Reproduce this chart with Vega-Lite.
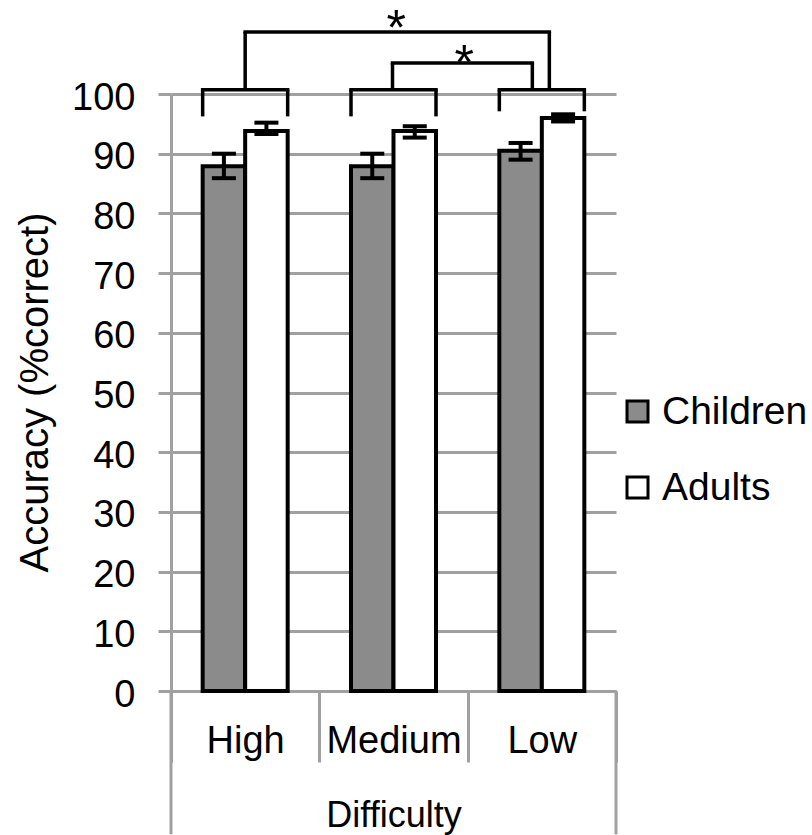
{
  "$schema": "https://vega.github.io/schema/vega-lite/v6.json",
  "width": 445,
  "height": 597,
  "autosize": {"type": "none"},
  "padding": {"left": 171, "top": 94, "right": 196, "bottom": 144},
  "background": "white",
  "config": {"font": "Liberation Sans", "view": {"stroke": null}},
  "datasets": {
    "bars": [
      {"Difficulty": "High", "Group": "Children", "Accuracy": 87.9, "Lower": 85.9, "Upper": 90.0},
      {"Difficulty": "High", "Group": "Adults", "Accuracy": 93.8, "Lower": 93.3, "Upper": 95.2},
      {"Difficulty": "Medium", "Group": "Children", "Accuracy": 87.9, "Lower": 85.9, "Upper": 90.0},
      {"Difficulty": "Medium", "Group": "Adults", "Accuracy": 93.8, "Lower": 92.7, "Upper": 94.6},
      {"Difficulty": "Low", "Group": "Children", "Accuracy": 90.5, "Lower": 89.0, "Upper": 91.8},
      {"Difficulty": "Low", "Group": "Adults", "Accuracy": 96.0, "Lower": 95.4, "Upper": 96.6}
    ],
    "groups": [
      {"Difficulty": "High", "Top": 100.7, "Bottom": 96.25},
      {"Difficulty": "Medium", "Top": 100.7, "Bottom": 96.25},
      {"Difficulty": "Low", "Top": 100.7, "Bottom": 97.1}
    ],
    "comparisons": [
      {"Difficulty": "High", "To": "Low", "Base": 100.7, "Level": 110.4, "Label": "*"},
      {"Difficulty": "Medium", "To": "Low", "Base": 100.7, "Level": 105.2, "Label": "*"}
    ]
  },
  "layer": [
    {
      "data": {"name": "bars"},
      "mark": {"type": "bar", "stroke": "black", "strokeWidth": 4, "strokeJoin": "miter"},
      "encoding": {
        "x": {
          "field": "Difficulty", "type": "nominal", "title": "Difficulty",
          "scale": {"domain": ["High", "Medium", "Low"], "paddingInner": 0, "paddingOuter": 0},
          "axis": {
            "tickBand": "extent", "tickSize": 71, "tickColor": "#a0a0a0", "tickWidth": 3,
            "domainColor": "#a0a0a0", "domainWidth": 3, "grid": false,
            "labelFontSize": 38, "labelColor": "black", "labelBaseline": "alphabetic",
            "labelPadding": -10, "labelAngle": 0,
            "titleFontSize": 36, "titleFontWeight": "normal", "titleColor": "black",
            "titleY": 135, "titleBaseline": "alphabetic"
          }
        },
        "xOffset": {
          "field": "Group", "type": "nominal",
          "scale": {"domain": ["Children", "Adults"], "paddingInner": 0, "paddingOuter": 0.745}
        },
        "y": {
          "field": "Accuracy", "type": "quantitative", "title": "Accuracy (%correct)",
          "scale": {"domain": [0, 100], "nice": false},
          "axis": {
            "values": [0, 10, 20, 30, 40, 50, 60, 70, 80, 90, 100],
            "grid": true, "gridColor": "#a0a0a0", "gridWidth": 3,
            "tickSize": 13, "tickColor": "#a0a0a0", "tickWidth": 3,
            "domainColor": "#a0a0a0", "domainWidth": 3,
            "labelFontSize": 38, "labelColor": "black", "labelPadding": 23, "labelOffset": 4,
            "titleFontSize": 40, "titleFontWeight": "normal", "titleColor": "black",
            "titleX": -124, "titleY": 298, "titleBaseline": "alphabetic"
          }
        },
        "fill": {
          "field": "Group", "type": "nominal",
          "scale": {"domain": ["Children", "Adults"], "range": ["#8b8b8b", "#ffffff"]},
          "legend": {
            "orient": "none", "legendX": 447, "legendY": 298, "title": null,
            "symbolType": "square", "symbolSize": 441, "symbolStrokeColor": "black",
            "symbolStrokeWidth": 3, "symbolOpacity": 1, "labelFontSize": 39, "labelColor": "black",
            "labelOffset": 5, "rowPadding": 36, "padding": 0, "labelLimit": 300
          }
        }
      }
    },
    {
      "data": {"name": "bars"},
      "mark": {"type": "rule", "strokeWidth": 4, "color": "black"},
      "encoding": {
        "x": {"field": "Difficulty", "type": "nominal"},
        "xOffset": {"field": "Group", "type": "nominal"},
        "y": {"field": "Lower", "type": "quantitative"},
        "y2": {"field": "Upper"}
      }
    },
    {
      "data": {"name": "bars"},
      "mark": {"type": "tick", "size": 24, "thickness": 4, "color": "black", "opacity": 1},
      "encoding": {
        "x": {"field": "Difficulty", "type": "nominal"},
        "xOffset": {"field": "Group", "type": "nominal"},
        "y": {"field": "Lower", "type": "quantitative"}
      }
    },
    {
      "data": {"name": "bars"},
      "mark": {"type": "tick", "size": 24, "thickness": 4, "color": "black", "opacity": 1},
      "encoding": {
        "x": {"field": "Difficulty", "type": "nominal"},
        "xOffset": {"field": "Group", "type": "nominal"},
        "y": {"field": "Upper", "type": "quantitative"}
      }
    },
    {
      "data": {"name": "groups"},
      "mark": {"type": "rule", "strokeWidth": 3.5, "color": "black", "strokeCap": "square", "xOffset": -42.5, "x2Offset": 42.5},
      "encoding": {
        "x": {"field": "Difficulty", "type": "nominal"},
        "x2": {"field": "Difficulty"},
        "y": {"field": "Top", "type": "quantitative"}
      }
    },
    {
      "data": {"name": "groups"},
      "mark": {"type": "rule", "strokeWidth": 3.5, "color": "black", "xOffset": -42.5},
      "encoding": {
        "x": {"field": "Difficulty", "type": "nominal"},
        "y": {"field": "Bottom", "type": "quantitative"},
        "y2": {"field": "Top"}
      }
    },
    {
      "data": {"name": "groups"},
      "mark": {"type": "rule", "strokeWidth": 3.5, "color": "black", "xOffset": 42.5},
      "encoding": {
        "x": {"field": "Difficulty", "type": "nominal"},
        "y": {"field": "Bottom", "type": "quantitative"},
        "y2": {"field": "Top"}
      }
    },
    {
      "data": {"name": "comparisons"},
      "transform": [{"filter": "datum.Difficulty == 'High'"}],
      "mark": {"type": "rule", "strokeWidth": 3.5, "color": "black", "strokeCap": "square", "x2Offset": 7.5},
      "encoding": {
        "x": {"field": "Difficulty", "type": "nominal"},
        "x2": {"field": "To"},
        "y": {"field": "Level", "type": "quantitative"}
      }
    },
    {
      "data": {"name": "comparisons"},
      "transform": [{"filter": "datum.Difficulty == 'High'"}],
      "mark": {"type": "rule", "strokeWidth": 3.5, "color": "black"},
      "encoding": {
        "x": {"field": "Difficulty", "type": "nominal"},
        "y": {"field": "Base", "type": "quantitative"},
        "y2": {"field": "Level"}
      }
    },
    {
      "data": {"name": "comparisons"},
      "transform": [{"filter": "datum.Difficulty == 'High'"}],
      "mark": {"type": "rule", "strokeWidth": 3.5, "color": "black", "xOffset": 7.5},
      "encoding": {
        "x": {"field": "To", "type": "nominal"},
        "y": {"field": "Base", "type": "quantitative"},
        "y2": {"field": "Level"}
      }
    },
    {
      "data": {"name": "comparisons"},
      "transform": [{"filter": "datum.Difficulty == 'High'"}],
      "mark": {"type": "text", "fontSize": 50, "color": "black", "baseline": "alphabetic", "align": "center", "dx": -145.5, "dy": 13},
      "encoding": {
        "x": {"field": "To", "type": "nominal"},
        "y": {"field": "Level", "type": "quantitative"},
        "text": {"field": "Label"}
      }
    },
    {
      "data": {"name": "comparisons"},
      "transform": [{"filter": "datum.Difficulty == 'Medium'"}],
      "mark": {"type": "rule", "strokeWidth": 3.5, "color": "black", "strokeCap": "square", "xOffset": -1, "x2Offset": -9.5},
      "encoding": {
        "x": {"field": "Difficulty", "type": "nominal"},
        "x2": {"field": "To"},
        "y": {"field": "Level", "type": "quantitative"}
      }
    },
    {
      "data": {"name": "comparisons"},
      "transform": [{"filter": "datum.Difficulty == 'Medium'"}],
      "mark": {"type": "rule", "strokeWidth": 3.5, "color": "black", "xOffset": -1},
      "encoding": {
        "x": {"field": "Difficulty", "type": "nominal"},
        "y": {"field": "Base", "type": "quantitative"},
        "y2": {"field": "Level"}
      }
    },
    {
      "data": {"name": "comparisons"},
      "transform": [{"filter": "datum.Difficulty == 'Medium'"}],
      "mark": {"type": "rule", "strokeWidth": 3.5, "color": "black", "xOffset": -9.5},
      "encoding": {
        "x": {"field": "To", "type": "nominal"},
        "y": {"field": "Base", "type": "quantitative"},
        "y2": {"field": "Level"}
      }
    },
    {
      "data": {"name": "comparisons"},
      "transform": [{"filter": "datum.Difficulty == 'Medium'"}],
      "mark": {"type": "text", "fontSize": 50, "color": "black", "baseline": "alphabetic", "align": "center", "dx": -77.5, "dy": 17},
      "encoding": {
        "x": {"field": "To", "type": "nominal"},
        "y": {"field": "Level", "type": "quantitative"},
        "text": {"field": "Label"}
      }
    },
    {
      "data": {"name": "groups"},
      "transform": [{"filter": "datum.Difficulty == 'High'"}],
      "mark": {"type": "rule", "strokeWidth": 3, "color": "#a0a0a0"},
      "encoding": {
        "x": {"field": "Difficulty", "type": "nominal", "bandPosition": 0},
        "y": {"datum": -24, "type": "quantitative"},
        "y2": {"datum": 0}
      }
    },
    {
      "data": {"name": "groups"},
      "transform": [{"filter": "datum.Difficulty == 'Low'"}],
      "mark": {"type": "rule", "strokeWidth": 3, "color": "#a0a0a0"},
      "encoding": {
        "x": {"field": "Difficulty", "type": "nominal", "bandPosition": 1},
        "y": {"datum": -24, "type": "quantitative"},
        "y2": {"datum": 0}
      }
    }
  ]
}
